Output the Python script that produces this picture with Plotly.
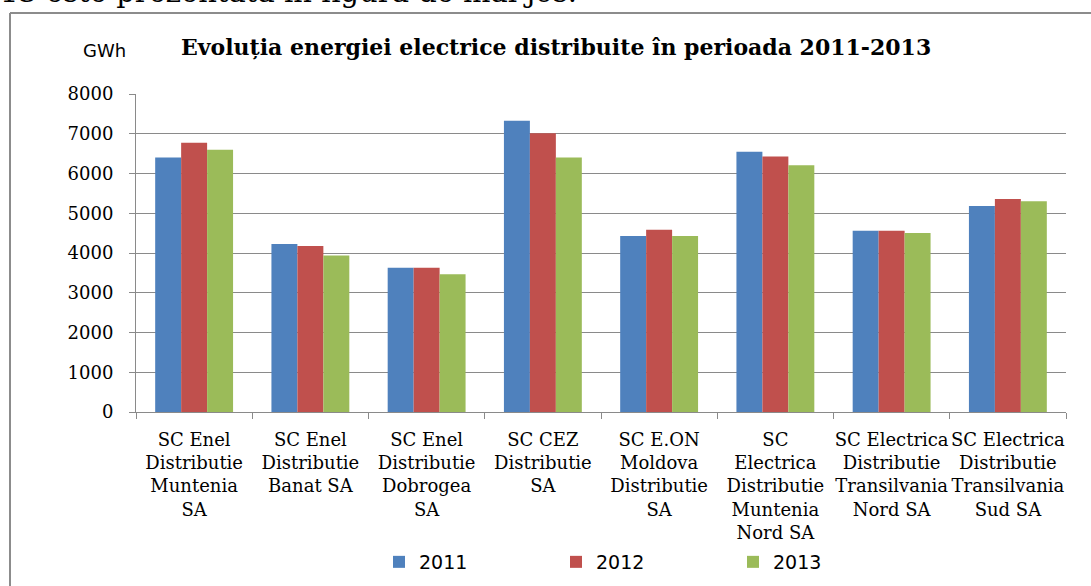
import plotly.graph_objects as go

categories = [
    "SC Enel<br>Distributie<br>Muntenia<br>SA",
    "SC Enel<br>Distributie<br>Banat SA",
    "SC Enel<br>Distributie<br>Dobrogea<br>SA",
    "SC CEZ<br>Distributie<br>SA",
    "SC E.ON<br>Moldova<br>Distributie<br>SA",
    "SC<br>Electrica<br>Distributie<br>Muntenia<br>Nord SA",
    "SC Electrica<br>Distributie<br>Transilvania<br>Nord SA",
    "SC Electrica<br>Distributie<br>Transilvania<br>Sud SA",
]
years = ["2011", "2012", "2013"]
values_2011 = [6400, 4225, 3630, 7330, 4430, 6550, 4560, 5180]
values_2012 = [6775, 4175, 3630, 7010, 4585, 6430, 4560, 5360]
values_2013 = [6600, 3940, 3465, 6400, 4430, 6205, 4505, 5300]
y_ticks = [0, 1000, 2000, 3000, 4000, 5000, 6000, 7000, 8000]

colors = ["#4F81BD", "#C0504D", "#9BBB59"]
series = [values_2011, values_2012, values_2013]

fig = go.Figure()
for name, vals, col in zip(years, series, colors):
    fig.add_trace(go.Bar(
        x=categories, y=vals, name=name,
        marker=dict(color=col, line=dict(width=0)),
    ))

W, H = 1091, 586
L, R, T, B = 136, 25, 94, 174
pw, ph = W - L - R, H - T - B

def px(x):
    return (x - L) / pw

def py(y):
    return (H - B - y) / ph

grid = "#8a8a8a"
fig.update_layout(
    width=W, height=H,
    margin=dict(l=L, r=R, t=T, b=B, autoexpand=False),
    paper_bgcolor="white", plot_bgcolor="white",
    barmode="group", bargap=0.33, bargroupgap=0,
    showlegend=True,
    legend=dict(
        orientation="h", x=px(379), y=py(562), xanchor="left", yanchor="middle",
        font=dict(family="DejaVu Sans", size=19, color="#000000"),
        entrywidth=132, entrywidthmode="pixels",
        bgcolor="rgba(0,0,0,0)",
    ),
    xaxis=dict(
        type="category", showline=True, linecolor=grid, linewidth=1,
        ticks="outside", tickson="boundaries", ticklen=6, tickcolor=grid,
        tickfont=dict(family="DejaVu Serif", size=18, color="#000000"),
        tickangle=0, ticklabelstandoff=11,
        showgrid=False,
    ),
    yaxis=dict(
        range=[0, 8000], tickvals=y_ticks, ticktext=[str(v) for v in y_ticks],
        showline=True, linecolor=grid, linewidth=1,
        ticks="outside", ticklen=6, tickcolor=grid,
        showgrid=True, gridcolor=grid, gridwidth=1.3,
        zeroline=False,
        tickfont=dict(family="DejaVu Serif", size=18, color="#000000"),
        ticklabelstandoff=12,
    ),
    shapes=[
        dict(type="line", xref="paper", yref="paper",
             x0=px(10), x1=px(10), y0=py(13), y1=py(600),
             line=dict(color="#8c8c8c", width=2)),
        dict(type="line", xref="paper", yref="paper",
             x0=px(10), x1=px(1100), y0=py(13), y1=py(13),
             line=dict(color="#8c8c8c", width=2)),
    ],
    annotations=[
        dict(text="<b>Evoluția energiei electrice distribuite în perioada 2011-2013</b>",
             xref="paper", yref="paper", x=px(556), y=py(47),
             xanchor="center", yanchor="middle", showarrow=False,
             font=dict(family="DejaVu Serif", size=22, color="#000000")),
        dict(text="GWh", xref="paper", yref="paper", x=px(81), y=py(50),
             xanchor="left", yanchor="middle", showarrow=False,
             font=dict(family="DejaVu Sans", size=18, color="#000000")),
        dict(text="13 este prezentată în figura de mai jos.", xref="paper", yref="paper",
             x=px(-2), y=py(-8), xanchor="left", yanchor="middle", showarrow=False,
             font=dict(family="DejaVu Serif", size=29, color="#000000")),
    ],
)

fig.write_html("out.html", config={"displayModeBar": False},
               post_script="document.body.style.margin='0px';")
